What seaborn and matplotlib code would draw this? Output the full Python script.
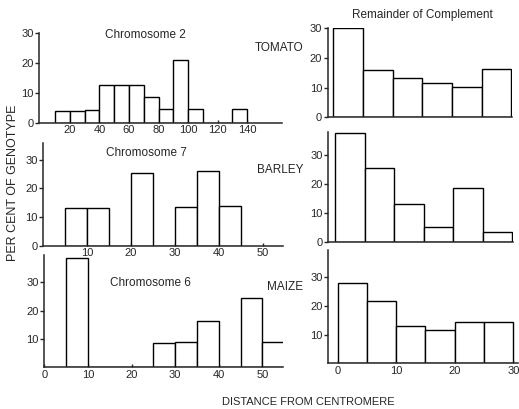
import numpy as np
import seaborn as sns
from matplotlib import pyplot as plt

# chromosome histograms (bin start, per cent of genotype)
tomato_chr_start = [10, 20, 30, 40, 50, 60, 70, 80, 90, 100, 130]
tomato_chr_pct = [4, 4, 4.3, 12.5, 12.5, 12.5, 8.5, 4.5, 21, 4.5, 4.7]
barley_chr_start = [5, 10, 20, 30, 35, 40]
barley_chr_pct = [13, 13.2, 25.5, 13.5, 26, 14]
maize_chr_start = [5, 25, 30, 35, 45, 50]
maize_chr_pct = [38.8, 8.7, 9, 16.3, 24.5, 9]

# remainder of complement
rem_start = [0, 5, 10, 15, 20, 25]
tomato_rem_pct = [30, 15.8, 13.4, 11.4, 10.3, 16.3]
barley_rem_pct = [37.7, 25.4, 12.9, 5.2, 18.5, 3.4]
maize_rem_pct = [27.9, 21.7, 13.1, 11.5, 14.3, 14.3]

sns.set_style('ticks')
plt.rcParams['font.family'] = ['Liberation Sans', 'DejaVu Sans']

W, H = 519, 409
fig = plt.figure(figsize=(W / 100, H / 100), dpi=100)


def panel(x0, y0, x1, y1, starts, pct, width, xlim, ylim, xticks, yticks):
    ax = fig.add_axes([x0 / W, 1 - y0 / H, (x1 - x0) / W, (y0 - y1) / H])
    mids = [s + width / 2 for s in starts]
    sns.histplot(x=mids, weights=pct, binwidth=width,
                 binrange=(min(starts), max(starts) + width), ax=ax,
                 color='white', edgecolor='black', linewidth=1.0, alpha=1)
    ax.set_xlim(*xlim)
    ax.set_ylim(*ylim)
    ax.set_xticks(xticks)
    ax.set_yticks(yticks)
    ax.set_xlabel('')
    ax.set_ylabel('')
    sns.despine(ax=ax)
    for s in ['left', 'bottom']:
        ax.spines[s].set_linewidth(1.1)
    ax.tick_params(axis='y', length=3, width=1, pad=1, labelsize=8)
    ax.tick_params(axis='x', length=2, width=1, direction='in', pad=2, labelsize=8)
    ax.patch.set_alpha(0)
    return ax


panel(39, 122.7, 282, 32.7, tomato_chr_start, tomato_chr_pct, 10,
      (-1, 163.7), (0, 30), [20, 40, 60, 80, 100, 120, 140], [0, 10, 20, 30])
panel(43, 245.7, 283, 143, barley_chr_start, barley_chr_pct, 5,
      (0, 54.5), (0, 35.8), [10, 20, 30, 40, 50], [0, 10, 20, 30])
panel(44.3, 367.3, 283, 255, maize_chr_start, maize_chr_pct, 5,
      (0, 54.7), (0, 39.7), [0, 10, 20, 30, 40, 50], [10, 20, 30])
panel(327.7, 117.3, 512, 28.3, rem_start, tomato_rem_pct, 5,
      (-0.94, 30.1), (0, 30), [], [0, 10, 20, 30])
panel(328.3, 241.7, 513.3, 131.7, rem_start, barley_rem_pct, 5,
      (-1.14, 30.2), (0, 38), [], [0, 10, 20, 30])
panel(328.3, 363.3, 518, 250, rem_start, maize_rem_pct, 5,
      (-1.6, 30.8), (0, 39.5), [0, 10, 20, 30], [10, 20, 30])

def label(x, y, s, size=8.5, **kw):
    fig.text(x / W, 1 - y / H, s, fontsize=size, va='center', **kw)

label(145.5, 35, 'Chromosome 2', ha='center')
label(146.5, 153, 'Chromosome 7', ha='center')
label(150.5, 283, 'Chromosome 6', ha='center')
label(422.5, 15, 'Remainder of Complement', ha='center')
label(303, 48, 'TOMATO', ha='right')
label(303, 170, 'BARLEY', ha='right')
label(303, 287, 'MAIZE', ha='right')
label(13, 183, 'PER CENT OF GENOTYPE', size=9, ha='center', rotation=90)
label(308, 402, 'DISTANCE FROM CENTROMERE', size=8, ha='center')

plt.savefig('out.png', dpi=100)
